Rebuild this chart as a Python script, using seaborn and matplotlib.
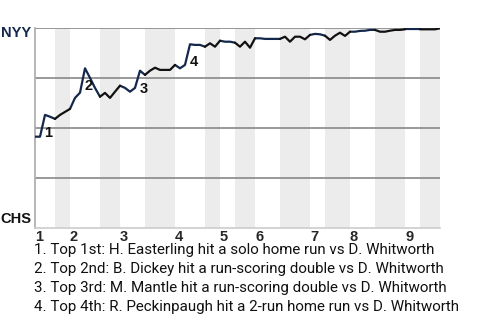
import numpy as np
import pandas as pd
import matplotlib
matplotlib.use("Agg")
import matplotlib.pyplot as plt
import seaborn as sns

# NYY win probability (%) after each plate appearance (PA 0 = game start)
win_prob = [45.8, 45.8, 56.7, 55.8, 54.7, 56.7, 58.2, 59.7, 65.2, 67.8,
            80.0, 75.2, 70.2, 65.8, 67.7, 65.2, 68.3, 71.3, 70.2, 68.3,
            70.2, 78.8, 76.7, 78.8, 80.3, 79.2, 79.2, 79.2, 81.7, 80.0,
            81.7, 92.0, 91.7, 91.7, 90.8, 92.5, 90.8, 93.8, 93.3, 93.3,
            92.8, 90.8, 93.3, 90.3, 95.0, 95.0, 94.7, 94.7, 94.7, 94.7,
            95.8, 93.3, 95.8, 95.8, 94.5, 96.7, 97.2, 97.0, 96.3, 94.2,
            96.3, 97.8, 96.2, 98.3, 98.3, 98.7, 98.8, 99.2, 99.2, 98.3,
            98.3, 98.8, 99.2, 99.2, 99.5, 99.5, 99.5, 99.5, 99.5, 99.5,
            99.5, 100.0]
# PA index where each half-inning begins/ends
half_bounds = [0, 4, 7, 13, 17, 22, 28, 34, 37, 40, 44, 49, 55, 58, 63, 68, 74, 77, 81]
innings = ["1", "2", "3", "4", "5", "6", "7", "8", "9"]
event_pa = [2, 10, 21, 31]
event_labels = ["1", "2", "3", "4"]
event_texts = [
    "1. Top 1st: H. Easterling hit a solo home run vs D. Whitworth",
    "2. Top 2nd: B. Dickey hit a run-scoring double vs D. Whitworth",
    "3. Top 3rd: M. Mantle hit a run-scoring double vs D. Whitworth",
    "4. Top 4th: R. Peckinpaugh hit a 2-run home run vs D. Whitworth",
]
team_top = "NYY"
team_bottom = "CHS"

NAVY = "#14284b"
rows = []
for h in range(len(half_bounds) - 1):
    side = "top" if h % 2 == 0 else "bottom"
    for pa in range(half_bounds[h], half_bounds[h + 1] + 1):
        rows.append({"pa": pa, "wp": win_prob[pa], "half": h, "side": side})
df = pd.DataFrame(rows)

sns.set_theme(style="white")
plt.rcParams["font.family"] = ["Roboto", "DejaVu Sans"]

fig = plt.figure(figsize=(4.8, 3.2), dpi=100)
ax = fig.add_axes([35 / 480, 1 - 228.3 / 320, 405 / 480, 200 / 320])

# shaded bottom halves
for h in range(1, len(half_bounds) - 1, 2):
    ax.axvspan(half_bounds[h], half_bounds[h + 1], color="#ececec", lw=0, zorder=0)

for yv in [25, 50, 75, 100]:
    ax.axhline(yv, color="#888888", lw=1.2, zorder=1)

sns.lineplot(data=df, x="pa", y="wp", hue="side", units="half", estimator=None,
             palette={"top": NAVY, "bottom": "#111111"}, lw=1.6, legend=False,
             ax=ax, zorder=3)

for pa, lab in zip(event_pa, event_labels):
    ax.annotate(lab, (pa, win_prob[pa]), xytext=(2.5, -13), textcoords="offset points",
                ha="center", va="center", fontsize=10.5, fontweight="bold",
                family=["Liberation Sans"], color="#111111", zorder=4)

ax.set_xlim(0, half_bounds[-1])
ax.set_ylim(0, 100)
ax.set_xlabel("")
ax.set_ylabel("")
ax.set_yticks([])
ax.set_xticks(half_bounds[0:-1:2])
ax.set_xticklabels(innings, fontsize=10.5, fontweight="bold", family=["Liberation Sans"])
for t in ax.get_xticklabels():
    t.set_horizontalalignment("left")
ax.tick_params(axis="x", length=0, pad=1.0)

for s in ["top", "right"]:
    ax.spines[s].set_visible(False)
ax.spines["left"].set_color("#aaaaaa")
ax.spines["bottom"].set_color("#cccccc")
ax.spines["left"].set_linewidth(1.2)
ax.spines["bottom"].set_linewidth(1.2)

fig.text(31 / 480, 1 - 33 / 320, team_top, ha="right", va="center", fontsize=10.5,
         fontweight="bold", color=NAVY, family=["Liberation Sans"])
fig.text(31 / 480, 1 - 219 / 320, team_bottom, ha="right", va="center", fontsize=10.5,
         fontweight="bold", color="#111111", family=["Liberation Sans"])

for i, txt in enumerate(event_texts):
    fig.text(34 / 480, 1 - (250 + 19 * i) / 320, txt, ha="left", va="center",
             fontsize=10.9, color="#111111")

fig.savefig("out.png", dpi=100)
